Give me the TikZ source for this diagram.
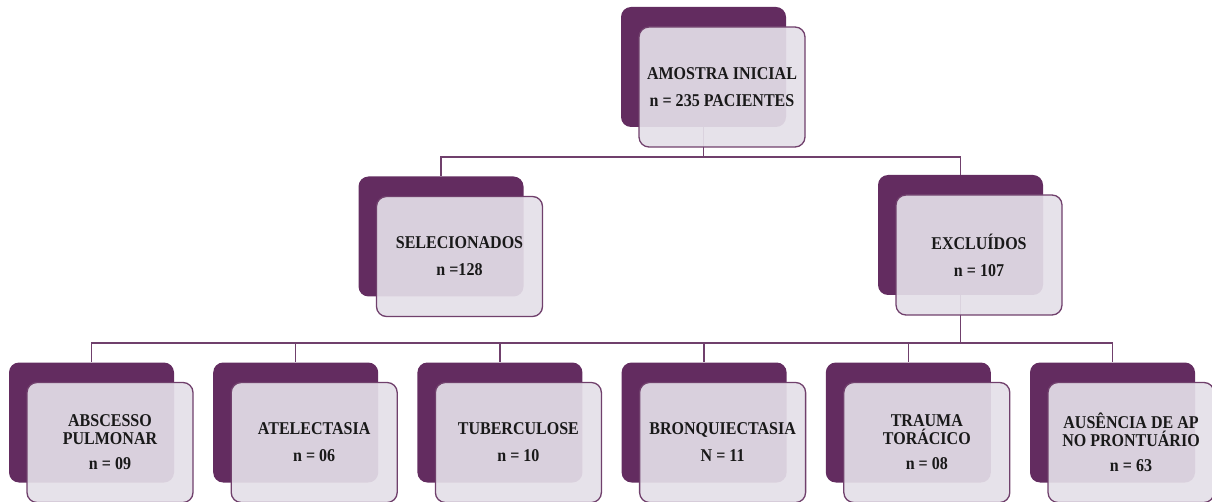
\documentclass[tikz,border=0pt]{standalone}
\usepackage{fontspec}
\setmainfont{Liberation Serif}[FakeStretch=0.89]
\usetikzlibrary{positioning}
\definecolor{plum}{RGB}{99,44,96}
\definecolor{plumline}{RGB}{112,64,108}
\definecolor{lilac}{RGB}{228,223,232}
\definecolor{ink}{RGB}{25,25,25}

\begin{document}
\begin{tikzpicture}[node distance={38.8pt},
    back/.style = {rectangle, rounded corners=10pt, fill=plum, inner sep=0pt,
      minimum width=165pt, minimum height=120pt},
    front/.style = {rectangle, rounded corners=10pt, fill=lilac, fill opacity=0.92,
      text opacity=1, draw=plumline, line width=1.3pt, inner sep=0pt,
      minimum width=166pt, minimum height=120pt, align=center, text=ink,
      font=\fontsize{18pt}{18pt}\selectfont\bfseries},
    link/.style = {draw=plumline, line width=1.4pt}]
      \useasboundingbox (0,0) rectangle (1212pt,-502pt);

      \node[back] at (703.5pt,-67pt) (b1){};
      \node[back] at (441pt,-236.5pt) (b2){};
      \node[back] at (960.5pt,-235pt) (b3){};

      \node[back] at (91.5pt,-422.5pt) (b4){};
      \node[back](b5)[right=of b4]{};
      \node[back](b6)[right=of b5]{};
      \node[back](b7)[right=of b6]{};
      \node[back](b8)[right=of b7]{};
      \node[back](b9)[right=of b8]{};

      \coordinate (j1) at (703.5pt,-157pt);
      \coordinate (j2) at (960.5pt,-343pt);

      \draw[link] (b1.south) -- (j1);
      \foreach \i in {2,3}
        \draw[link] (j1) -| (b\i.north);
      \draw[link] (b3.south) -- (j2);
      \foreach \i in {4,...,9}
        \draw[link] (j2) -| (b\i.north);

      \node[front] at ([shift={(18.5pt,-20pt)}]b1) (f1){AMOSTRA INICIAL\\[9pt]n = 235 PACIENTES};
      \node[front] at ([shift={(18.5pt,-20pt)}]b2) (f2){SELECIONADOS\\[9pt]n =128};
      \node[front] at ([shift={(18.5pt,-20pt)}]b3) (f3){EXCLUÍDOS\\[9pt]n = 107};
      \node[front] at ([shift={(18.5pt,-20pt)}]b4) (f4){ABSCESSO\\PULMONAR\\[7pt]n = 09};
      \node[front] at ([shift={(18.5pt,-20pt)}]b5) (f5){ATELECTASIA\\[9pt]n = 06};
      \node[front] at ([shift={(18.5pt,-20pt)}]b6) (f6){TUBERCULOSE\\[9pt]n = 10};
      \node[front] at ([shift={(18.5pt,-20pt)}]b7) (f7){BRONQUIECTASIA\\[9pt]N = 11};
      \node[front] at ([shift={(18.5pt,-20pt)}]b8) (f8){TRAUMA\\TORÁCICO\\[7pt]n = 08};
      \node[front] at ([shift={(18.5pt,-20pt)}]b9) (f9){AUSÊNCIA DE AP\\NO PRONTUÁRIO\\[7pt]n = 63};

    \end{tikzpicture}
\end{document}
